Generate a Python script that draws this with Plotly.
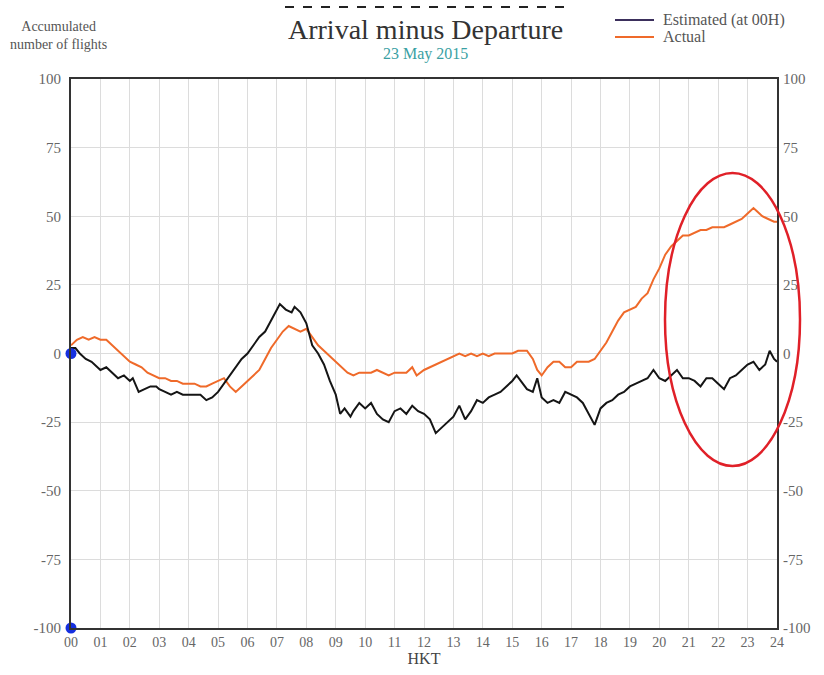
import plotly.graph_objects as go

# ---------------- data ----------------
est_hours = [0.0, 0.15, 0.3, 0.5, 0.7, 0.9, 1.0, 1.2, 1.4, 1.6, 1.8, 2.0, 2.1, 2.3, 2.5, 2.7, 2.9,
             3.0, 3.2, 3.4, 3.6, 3.8, 4.0, 4.2, 4.4, 4.6, 4.8, 5.0, 5.2, 5.4, 5.6, 5.8, 6.0, 6.2,
             6.4, 6.6, 6.8, 7.0, 7.1, 7.3, 7.5, 7.6, 7.8, 8.0, 8.2, 8.4, 8.6, 8.8, 9.0, 9.15, 9.3,
             9.5, 9.6, 9.8, 10.0, 10.2, 10.4, 10.6, 10.8, 11.0, 11.2, 11.4, 11.6, 11.8, 12.0, 12.2,
             12.4, 12.6, 12.8, 13.0, 13.2, 13.4, 13.6, 13.8, 14.0, 14.2, 14.4, 14.6, 14.8, 15.0,
             15.15, 15.3, 15.5, 15.7, 15.85, 16.0, 16.2, 16.4, 16.6, 16.8, 17.0, 17.2, 17.4, 17.6,
             17.8, 18.0, 18.2, 18.4, 18.6, 18.8, 19.0, 19.2, 19.4, 19.6, 19.8, 20.0, 20.2, 20.4,
             20.6, 20.8, 21.0, 21.2, 21.4, 21.6, 21.8, 22.0, 22.2, 22.4, 22.6, 22.8, 23.0, 23.2,
             23.4, 23.6, 23.75, 23.9, 24.0]
est_values = [2, 2, 0, -2, -3, -5, -6, -5, -7, -9, -8, -10, -9, -14, -13, -12, -12,
              -13, -14, -15, -14, -15, -15, -15, -15, -17, -16, -14, -11, -8, -5, -2, 0, 3,
              6, 8, 12, 16, 18, 16, 15, 17, 15, 11, 3, 0, -4, -10, -15, -22, -20,
              -23, -21, -18, -20, -18, -22, -24, -25, -21, -20, -22, -19, -21, -22, -24,
              -29, -27, -25, -23, -19, -24, -21, -17, -18, -16, -15, -14, -12, -10,
              -8, -10, -13, -14, -9, -16, -18, -17, -18, -14, -15, -16, -18, -22,
              -26, -20, -18, -17, -15, -14, -12, -11, -10, -9, -6, -9, -10, -8,
              -6, -9, -9, -10, -12, -9, -9, -11, -13, -9, -8, -6, -4, -3,
              -6, -4, 1, -2, -3]

act_hours = [0.0, 0.2, 0.4, 0.6, 0.8, 1.0, 1.2, 1.4, 1.6, 1.8, 2.0, 2.2, 2.4, 2.6, 2.8, 3.0, 3.2,
             3.4, 3.6, 3.8, 4.0, 4.2, 4.4, 4.6, 4.8, 5.0, 5.2, 5.4, 5.6, 5.8, 6.0, 6.2, 6.4, 6.6,
             6.8, 7.0, 7.2, 7.4, 7.6, 7.8, 8.0, 8.2, 8.4, 8.6, 8.8, 9.0, 9.2, 9.4, 9.6, 9.8, 10.0,
             10.2, 10.4, 10.6, 10.8, 11.0, 11.2, 11.4, 11.6, 11.75, 12.0, 12.2, 12.4, 12.6, 12.8,
             13.0, 13.2, 13.4, 13.6, 13.8, 14.0, 14.2, 14.4, 14.6, 14.8, 15.0, 15.2, 15.5, 15.7,
             15.85, 16.0, 16.2, 16.4, 16.6, 16.8, 17.0, 17.2, 17.4, 17.6, 17.8, 18.0, 18.2, 18.4,
             18.6, 18.8, 19.0, 19.2, 19.4, 19.6, 19.8, 20.0, 20.2, 20.4, 20.6, 20.8, 21.0, 21.2,
             21.4, 21.6, 21.8, 22.0, 22.2, 22.4, 22.6, 22.8, 23.0, 23.2, 23.3, 23.5, 23.7, 23.9,
             24.0]
act_values = [3, 5, 6, 5, 6, 5, 5, 3, 1, -1, -3, -4, -5, -7, -8, -9, -9,
              -10, -10, -11, -11, -11, -12, -12, -11, -10, -9, -12, -14, -12, -10, -8, -6, -2,
              2, 5, 8, 10, 9, 8, 9, 6, 3, 1, -1, -3, -5, -7, -8, -7, -7,
              -7, -6, -7, -8, -7, -7, -7, -5, -8, -6, -5, -4, -3, -2,
              -1, 0, -1, 0, -1, 0, -1, 0, 0, 0, 0, 1, 1, -2,
              -6, -8, -5, -3, -3, -5, -5, -3, -3, -3, -2, 1, 4, 8,
              12, 15, 16, 17, 20, 22, 27, 31, 36, 39, 41, 43, 43, 44,
              45, 45, 46, 46, 46, 47, 48, 49, 51, 53, 52, 50, 49, 48,
              48]

origin_x = [0, 0]
origin_y = [0, -100]

hour_ticks = list(range(0, 25))
hour_labels = [f"{h:02d}" for h in hour_ticks]
y_ticks = [-100, -75, -50, -25, 0, 25, 50, 75, 100]
y_labels = ["-100", "-75", "-50", "-25", "0", "25", "50", "75", "100"]

series_names = ["Estimated (at 00H)", "Actual"]
title_text = "Arrival minus Departure"
subtitle_text = "23 May 2015"
ytitle_text = "Accumulated<br>number of flights"
xtitle_text = "HKT"

# ---------------- style ----------------
FONT = "Liberation Serif, Times New Roman, serif"
TICK_COLOR = "#666666"
EST_COLOR = "#151515"
EST_LEGEND_COLOR = "#3b2f5c"
ACT_COLOR = "#ef6a2a"

fig = go.Figure()

fig.add_trace(go.Scatter(x=act_hours, y=act_values, mode="lines",
                         line=dict(color=ACT_COLOR, width=2), showlegend=False,
                         hoverinfo="skip"))
fig.add_trace(go.Scatter(x=est_hours, y=est_values, mode="lines",
                         line=dict(color=EST_COLOR, width=2), showlegend=False,
                         hoverinfo="skip"))
fig.add_trace(go.Scatter(x=origin_x, y=origin_y, mode="markers",
                         marker=dict(color="#1530e0", size=11), cliponaxis=False,
                         showlegend=False, hoverinfo="skip"))
# invisible trace for right axis
fig.add_trace(go.Scatter(x=[0, 24], y=[-100, 100], yaxis="y2", mode="markers",
                         marker=dict(opacity=0), showlegend=False, hoverinfo="skip"))

L, R, T, B = 71, 47, 79, 47
W, H = 824, 675
pw = W - L - R
ph = H - T - B


def px(xpix):
    return (xpix - L) / pw


def py(ypix):
    return (H - B - ypix) / ph


fig.update_layout(
    width=W, height=H,
    margin=dict(l=L, r=R, t=T, b=B, autoexpand=False),
    paper_bgcolor="white", plot_bgcolor="white",
    font=dict(family=FONT, size=14, color=TICK_COLOR),
    showlegend=False,
    xaxis=dict(range=[0, 24], tickmode="array", tickvals=hour_ticks, ticktext=hour_labels,
               showgrid=True, gridcolor="#dcdcdc", gridwidth=1,
               showline=True, mirror=True, linecolor="#333333", linewidth=2,
               ticks="", zeroline=False, automargin=False,
               tickfont=dict(family=FONT, size=14, color=TICK_COLOR),
               title=dict(text=xtitle_text, standoff=2,
                          font=dict(family=FONT, size=16, color="#444444"))),
    yaxis=dict(range=[-100, 100], tickmode="array", tickvals=y_ticks, ticktext=y_labels,
               showgrid=True, gridcolor="#dcdcdc", gridwidth=1,
               showline=True, mirror=True, linecolor="#333333", linewidth=2,
               ticks="", zeroline=False, ticklabelstandoff=5, automargin=False,
               tickfont=dict(family=FONT, size=15, color=TICK_COLOR)),
    yaxis2=dict(range=[-100, 100], tickmode="array", tickvals=y_ticks, ticktext=y_labels,
                overlaying="y", side="right", showgrid=False, zeroline=False,
                showline=False, ticks="", ticklabelstandoff=5, automargin=False,
                tickfont=dict(family=FONT, size=15, color=TICK_COLOR)),
)

fig.add_annotation(text=title_text, xref="paper", yref="paper", x=px(425), y=py(29),
                   showarrow=False, xanchor="center", yanchor="middle",
                   font=dict(family=FONT, size=28, color="#333333"))
fig.add_annotation(text=subtitle_text, xref="paper", yref="paper", x=px(425), y=py(54),
                   showarrow=False, xanchor="center", yanchor="middle",
                   font=dict(family=FONT, size=16, color="#3a9fa3"))
fig.add_annotation(text=ytitle_text, xref="paper", yref="paper", x=px(58), y=py(35),
                   showarrow=False, xanchor="center", yanchor="middle", align="center",
                   font=dict(family=FONT, size=14, color="#555555"))

# manual legend
legend_y = [20, 37]
legend_colors = [EST_LEGEND_COLOR, ACT_COLOR]
for name, yy, col in zip(series_names, legend_y, legend_colors):
    fig.add_shape(type="line", xref="paper", yref="paper", x0=px(615), x1=px(654),
                  y0=py(yy), y1=py(yy), line=dict(color=col, width=2))
    fig.add_annotation(text=name, xref="paper", yref="paper", x=px(661), y=py(yy),
                       showarrow=False, xanchor="left", yanchor="middle",
                       font=dict(family=FONT, size=16, color="#555555"))

# dashed line above the title
fig.add_shape(type="line", xref="paper", yref="paper", x0=px(285), x1=px(566),
              y0=py(7), y1=py(7), line=dict(color="#222222", width=2, dash="dash"))
# red ellipse highlight
fig.add_shape(type="circle", xref="paper", yref="paper", x0=px(665), x1=px(800),
              y0=py(466), y1=py(173), line=dict(color="#e02028", width=2.5))

fig.write_html("out.html", config={"displayModeBar": False},
               post_script="document.body.style.margin='0';document.body.style.overflow='hidden';")
